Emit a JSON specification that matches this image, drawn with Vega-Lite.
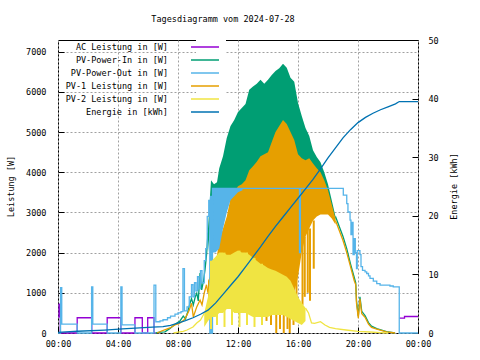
{
"$schema": "https://vega.github.io/schema/vega-lite/v6.json",
"width": 360, "height": 293,
"autosize": {"type": "none"},
"padding": {"left": 58, "top": 40, "right": 62, "bottom": 27},
"background": "white",
"title": {"text": "Tagesdiagramm vom 2024-07-28", "font": "DejaVu Sans Mono", "fontSize": 8.5, "fontWeight": "normal", "color": "black", "anchor": "middle", "dx": -15, "offset": 13},
"config": {
  "view": {"stroke": "black", "strokeWidth": 1},
  "axis": {"labelFont": "DejaVu Sans Mono", "labelFontSize": 8.5, "labelColor": "black", "titleFont": "DejaVu Sans Mono", "titleFontSize": 8.5, "titleFontWeight": "normal", "titleColor": "black", "domain": false, "tickColor": "black", "labelFlush": false, "labelOverlap": false, "zindex": 0},
  "legend": {"orient": "none", "legendX": 138, "legendY": -2, "padding": 4, "fillColor": "white", "direction": "vertical", "symbolType": "M-3.5,0H3.5", "symbolSize": 64, "symbolStrokeWidth": 1.5, "labelAlign": "right", "labelOffset": -42, "labelFont": "DejaVu Sans Mono", "labelFontSize": 8.5, "labelColor": "black", "rowPadding": 3}
},
"datasets": {
"ln": [
{"s":"ac","g":1,"t":0,"v":400},{"s":"ac","g":1,"t":0.07,"v":720},{"s":"ac","g":1,"t":0.15,"v":0},{"s":"ac","g":1,"t":1.28,"v":380},{"s":"ac","g":1,"t":2.25,"v":0},{"s":"ac","g":1,"t":3.28,"v":380},{"s":"ac","g":1,"t":4.19,"v":0},{"s":"ac","g":1,"t":5.13,"v":380},{"s":"ac","g":1,"t":5.62,"v":0},{"s":"ac","g":1,"t":5.98,"v":380},{"s":"ac","g":1,"t":6.4,"v":0},{"s":"ac","g":1,"t":6.5,"v":0},
{"s":"ac","g":2,"t":22.75,"v":370},{"s":"ac","g":2,"t":23.1,"v":410},{"s":"ac","g":2,"t":24,"v":410},
{"s":"in","g":1,"t":6.5,"v":0},{"s":"in","g":1,"t":6.8,"v":20},{"s":"in","g":1,"t":7.13,"v":30},{"s":"in","g":1,"t":7.47,"v":115},{"s":"in","g":1,"t":7.8,"v":220},{"s":"in","g":1,"t":8.13,"v":300},{"s":"in","g":1,"t":8.35,"v":420},{"s":"in","g":1,"t":8.5,"v":350},{"s":"in","g":1,"t":8.62,"v":490},{"s":"in","g":1,"t":8.8,"v":740},{"s":"in","g":1,"t":8.9,"v":860},{"s":"in","g":1,"t":9.02,"v":700},{"s":"in","g":1,"t":9.15,"v":900},{"s":"in","g":1,"t":9.25,"v":990},{"s":"in","g":1,"t":9.35,"v":800},{"s":"in","g":1,"t":9.47,"v":1490},{"s":"in","g":1,"t":9.58,"v":1070},{"s":"in","g":1,"t":9.7,"v":1300},{"s":"in","g":1,"t":9.8,"v":1570},{"s":"in","g":1,"t":9.91,"v":1980},{"s":"in","g":1,"t":10.0,"v":2500},
{"s":"in","g":2,"t":18.5,"v":2900},{"s":"in","g":2,"t":18.75,"v":2650},{"s":"in","g":2,"t":19.0,"v":2400},{"s":"in","g":2,"t":19.25,"v":2100},{"s":"in","g":2,"t":19.5,"v":1720},{"s":"in","g":2,"t":19.75,"v":1380},{"s":"in","g":2,"t":19.85,"v":1250},{"s":"in","g":2,"t":19.9,"v":800},{"s":"in","g":2,"t":20.02,"v":420},{"s":"in","g":2,"t":20.13,"v":900},{"s":"in","g":2,"t":20.25,"v":540},{"s":"in","g":2,"t":20.47,"v":430},{"s":"in","g":2,"t":20.7,"v":260},{"s":"in","g":2,"t":20.9,"v":170},{"s":"in","g":2,"t":21.25,"v":110},{"s":"in","g":2,"t":21.9,"v":35},{"s":"in","g":2,"t":22.47,"v":0},
{"s":"p1","g":1,"t":6.6,"v":0},{"s":"p1","g":1,"t":6.9,"v":50},{"s":"p1","g":1,"t":7.2,"v":90},{"s":"p1","g":1,"t":7.47,"v":125},{"s":"p1","g":1,"t":7.8,"v":200},{"s":"p1","g":1,"t":8.1,"v":240},{"s":"p1","g":1,"t":8.4,"v":320},{"s":"p1","g":1,"t":8.6,"v":450},{"s":"p1","g":1,"t":8.75,"v":570},{"s":"p1","g":1,"t":8.9,"v":740},{"s":"p1","g":1,"t":9.02,"v":400},{"s":"p1","g":1,"t":9.25,"v":650},{"s":"p1","g":1,"t":9.47,"v":820},{"s":"p1","g":1,"t":9.6,"v":700},{"s":"p1","g":1,"t":9.75,"v":1000},{"s":"p1","g":1,"t":9.9,"v":1200},{"s":"p1","g":1,"t":10.0,"v":1000},
{"s":"p1","g":2,"t":18.5,"v":2800},{"s":"p1","g":2,"t":18.75,"v":2550},{"s":"p1","g":2,"t":19.0,"v":2300},{"s":"p1","g":2,"t":19.25,"v":2000},{"s":"p1","g":2,"t":19.5,"v":1650},{"s":"p1","g":2,"t":19.75,"v":1300},{"s":"p1","g":2,"t":19.85,"v":1200},{"s":"p1","g":2,"t":19.9,"v":740},{"s":"p1","g":2,"t":20.02,"v":370},{"s":"p1","g":2,"t":20.13,"v":850},{"s":"p1","g":2,"t":20.25,"v":480},{"s":"p1","g":2,"t":20.47,"v":390},{"s":"p1","g":2,"t":20.7,"v":220},{"s":"p1","g":2,"t":20.9,"v":140},{"s":"p1","g":2,"t":21.25,"v":95},{"s":"p1","g":2,"t":21.9,"v":30},{"s":"p1","g":2,"t":22.47,"v":0},
{"s":"out","g":1,"t":0,"v":0},{"s":"out","g":1,"t":0.17,"v":1130},{"s":"out","g":1,"t":0.25,"v":220},{"s":"out","g":1,"t":1.28,"v":0},{"s":"out","g":1,"t":2.24,"v":1150},{"s":"out","g":1,"t":2.32,"v":220},{"s":"out","g":1,"t":3.28,"v":0},{"s":"out","g":1,"t":4.19,"v":1150},{"s":"out","g":1,"t":4.27,"v":200},{"s":"out","g":1,"t":5.13,"v":0},{"s":"out","g":1,"t":6.4,"v":1190},{"s":"out","g":1,"t":6.52,"v":280},{"s":"out","g":1,"t":6.8,"v":300},{"s":"out","g":1,"t":7.0,"v":330},{"s":"out","g":1,"t":7.3,"v":380},{"s":"out","g":1,"t":7.5,"v":420},{"s":"out","g":1,"t":7.8,"v":470},{"s":"out","g":1,"t":8.0,"v":500},{"s":"out","g":1,"t":8.2,"v":530},{"s":"out","g":1,"t":8.33,"v":1600},{"s":"out","g":1,"t":8.43,"v":550},{"s":"out","g":1,"t":8.6,"v":650},{"s":"out","g":1,"t":8.75,"v":900},{"s":"out","g":1,"t":8.9,"v":1200},{"s":"out","g":1,"t":9.0,"v":900},{"s":"out","g":1,"t":9.1,"v":1250},{"s":"out","g":1,"t":9.2,"v":1050},{"s":"out","g":1,"t":9.3,"v":1400},{"s":"out","g":1,"t":9.4,"v":1100},{"s":"out","g":1,"t":9.5,"v":1550},{"s":"out","g":1,"t":9.6,"v":1250},{"s":"out","g":1,"t":9.75,"v":1800},{"s":"out","g":1,"t":9.85,"v":2100},{"s":"out","g":1,"t":9.95,"v":2900},{"s":"out","g":1,"t":10.05,"v":3300},{"s":"out","g":1,"t":10.12,"v":0},{"s":"out","g":1,"t":10.17,"v":3400},{"s":"out","g":1,"t":10.25,"v":0},{"s":"out","g":1,"t":10.3,"v":3600},{"s":"out","g":1,"t":16.1,"v":2000},{"s":"out","g":1,"t":16.16,"v":3600},{"s":"out","g":1,"t":18.8,"v":3600},{"s":"out","g":1,"t":19.02,"v":3430},{"s":"out","g":1,"t":19.25,"v":3220},{"s":"out","g":1,"t":19.33,"v":3010},{"s":"out","g":1,"t":19.47,"v":2810},{"s":"out","g":1,"t":19.53,"v":2450},{"s":"out","g":1,"t":19.6,"v":2750},{"s":"out","g":1,"t":19.67,"v":1950},{"s":"out","g":1,"t":19.75,"v":2350},{"s":"out","g":1,"t":19.82,"v":2000},{"s":"out","g":1,"t":19.9,"v":1600},{"s":"out","g":1,"t":19.95,"v":2050},{"s":"out","g":1,"t":20.13,"v":1950},{"s":"out","g":1,"t":20.2,"v":1650},{"s":"out","g":1,"t":20.3,"v":1560},{"s":"out","g":1,"t":20.47,"v":1520},{"s":"out","g":1,"t":20.58,"v":1480},{"s":"out","g":1,"t":20.7,"v":1420},{"s":"out","g":1,"t":20.8,"v":1360},{"s":"out","g":1,"t":21.02,"v":1290},{"s":"out","g":1,"t":21.25,"v":1230},{"s":"out","g":1,"t":21.47,"v":1190},{"s":"out","g":1,"t":22.13,"v":1170},{"s":"out","g":1,"t":22.35,"v":1150},{"s":"out","g":1,"t":22.75,"v":0},{"s":"out","g":1,"t":24,"v":0},
{"s":"p2","g":1,"t":7.7,"v":0},{"s":"p2","g":1,"t":8.0,"v":20},{"s":"p2","g":1,"t":8.35,"v":40},{"s":"p2","g":1,"t":8.6,"v":75},{"s":"p2","g":1,"t":9.0,"v":150},{"s":"p2","g":1,"t":9.25,"v":250},{"s":"p2","g":1,"t":9.5,"v":320},{"s":"p2","g":1,"t":9.75,"v":490},
{"s":"p2","g":2,"t":16.5,"v":620},{"s":"p2","g":2,"t":16.7,"v":500},{"s":"p2","g":2,"t":16.9,"v":250},{"s":"p2","g":2,"t":17.1,"v":240},{"s":"p2","g":2,"t":17.5,"v":280},{"s":"p2","g":2,"t":17.8,"v":200},{"s":"p2","g":2,"t":18.1,"v":140},{"s":"p2","g":2,"t":18.5,"v":110},{"s":"p2","g":2,"t":19.2,"v":75},{"s":"p2","g":2,"t":20.0,"v":40},{"s":"p2","g":2,"t":20.8,"v":25},{"s":"p2","g":2,"t":21.5,"v":10},{"s":"p2","g":2,"t":22.0,"v":0}
],
"bd": [
{"s":"in","t":10.0,"lo":2000,"hi":2600},{"s":"in","t":10.2,"lo":3000,"hi":3800},{"s":"in","t":10.4,"lo":3500,"hi":3700},{"s":"in","t":10.6,"lo":3550,"hi":3750},{"s":"in","t":10.75,"lo":3550,"hi":4100},{"s":"in","t":11.0,"lo":3550,"hi":4400},{"s":"in","t":11.25,"lo":3550,"hi":4850},{"s":"in","t":11.5,"lo":3550,"hi":5150},{"s":"in","t":11.75,"lo":3550,"hi":5300},{"s":"in","t":12.0,"lo":3550,"hi":5500},{"s":"in","t":12.25,"lo":3600,"hi":5600},{"s":"in","t":12.5,"lo":3700,"hi":5700},{"s":"in","t":12.75,"lo":3900,"hi":6050},{"s":"in","t":13.0,"lo":4000,"hi":6130},{"s":"in","t":13.25,"lo":4100,"hi":6200},{"s":"in","t":13.5,"lo":4200,"hi":6300},{"s":"in","t":13.75,"lo":4300,"hi":6200},{"s":"in","t":14.0,"lo":4300,"hi":6300},{"s":"in","t":14.25,"lo":4500,"hi":6420},{"s":"in","t":14.5,"lo":4800,"hi":6520},{"s":"in","t":14.75,"lo":4900,"hi":6590},{"s":"in","t":15.0,"lo":5100,"hi":6700},{"s":"in","t":15.25,"lo":5000,"hi":6600},{"s":"in","t":15.5,"lo":4800,"hi":6350},{"s":"in","t":15.75,"lo":4500,"hi":6250},{"s":"in","t":16.0,"lo":4300,"hi":5720},{"s":"in","t":16.25,"lo":4200,"hi":5400},{"s":"in","t":16.5,"lo":4100,"hi":5100},{"s":"in","t":16.75,"lo":4100,"hi":4900},{"s":"in","t":17.0,"lo":4000,"hi":4550},{"s":"in","t":17.25,"lo":3900,"hi":4380},{"s":"in","t":17.5,"lo":3800,"hi":4250},{"s":"in","t":17.75,"lo":3700,"hi":4000},{"s":"in","t":18.0,"lo":3400,"hi":3700},{"s":"in","t":18.25,"lo":3100,"hi":3300},{"s":"in","t":18.5,"lo":2800,"hi":2900},
{"s":"p1","t":10.0,"lo":700,"hi":1300},{"s":"p1","t":10.25,"lo":800,"hi":1500},{"s":"p1","t":10.5,"lo":1000,"hi":1700},{"s":"p1","t":10.75,"lo":1400,"hi":2300},{"s":"p1","t":11.0,"lo":1900,"hi":2600},{"s":"p1","t":11.25,"lo":1900,"hi":2900},{"s":"p1","t":11.5,"lo":1900,"hi":3350},{"s":"p1","t":11.75,"lo":1900,"hi":3500},{"s":"p1","t":12.0,"lo":1900,"hi":3650},{"s":"p1","t":12.25,"lo":1900,"hi":3700},{"s":"p1","t":12.5,"lo":1850,"hi":3800},{"s":"p1","t":12.75,"lo":1800,"hi":4050},{"s":"p1","t":13.0,"lo":1750,"hi":4150},{"s":"p1","t":13.25,"lo":1700,"hi":4260},{"s":"p1","t":13.5,"lo":1650,"hi":4400},{"s":"p1","t":13.75,"lo":1600,"hi":4450},{"s":"p1","t":14.0,"lo":1550,"hi":4500},{"s":"p1","t":14.25,"lo":1500,"hi":4750},{"s":"p1","t":14.5,"lo":1200,"hi":5000},{"s":"p1","t":14.75,"lo":900,"hi":5150},{"s":"p1","t":15.0,"lo":700,"hi":5300},{"s":"p1","t":15.25,"lo":700,"hi":5200},{"s":"p1","t":15.5,"lo":800,"hi":5000},{"s":"p1","t":15.75,"lo":1000,"hi":4800},{"s":"p1","t":16.0,"lo":1400,"hi":4450},{"s":"p1","t":16.25,"lo":2000,"hi":4350},{"s":"p1","t":16.5,"lo":2400,"hi":4300},{"s":"p1","t":16.75,"lo":2600,"hi":4350},{"s":"p1","t":17.0,"lo":2800,"hi":4220},{"s":"p1","t":17.25,"lo":2900,"hi":4100},{"s":"p1","t":17.5,"lo":2950,"hi":4000},{"s":"p1","t":17.75,"lo":2950,"hi":3800},{"s":"p1","t":18.0,"lo":2950,"hi":3550},{"s":"p1","t":18.25,"lo":2850,"hi":3200},{"s":"p1","t":18.5,"lo":2700,"hi":2850},
{"s":"out","t":10.3,"lo":2000,"hi":3600},{"s":"out","t":10.5,"lo":2000,"hi":3600},{"s":"out","t":10.75,"lo":2100,"hi":3600},{"s":"out","t":11.0,"lo":2600,"hi":3600},{"s":"out","t":11.25,"lo":3000,"hi":3600},{"s":"out","t":11.5,"lo":3300,"hi":3600},{"s":"out","t":11.75,"lo":3400,"hi":3600},{"s":"out","t":12.0,"lo":3500,"hi":3600},{"s":"out","t":12.3,"lo":3550,"hi":3600},
{"s":"p2","t":9.75,"lo":150,"hi":500},{"s":"p2","t":10.0,"lo":300,"hi":900},{"s":"p2","t":10.25,"lo":400,"hi":1800},{"s":"p2","t":10.5,"lo":400,"hi":1900},{"s":"p2","t":10.75,"lo":500,"hi":2000},{"s":"p2","t":11.0,"lo":500,"hi":2000},{"s":"p2","t":11.25,"lo":600,"hi":1950},{"s":"p2","t":11.5,"lo":600,"hi":1950},{"s":"p2","t":11.75,"lo":500,"hi":2000},{"s":"p2","t":12.0,"lo":500,"hi":2050},{"s":"p2","t":12.25,"lo":500,"hi":2000},{"s":"p2","t":12.5,"lo":500,"hi":2000},{"s":"p2","t":12.75,"lo":450,"hi":1950},{"s":"p2","t":13.0,"lo":400,"hi":1870},{"s":"p2","t":13.25,"lo":400,"hi":1800},{"s":"p2","t":13.5,"lo":400,"hi":1720},{"s":"p2","t":13.75,"lo":400,"hi":1680},{"s":"p2","t":14.0,"lo":400,"hi":1620},{"s":"p2","t":14.25,"lo":450,"hi":1580},{"s":"p2","t":14.5,"lo":450,"hi":1550},{"s":"p2","t":14.75,"lo":450,"hi":1500},{"s":"p2","t":15.0,"lo":450,"hi":1450},{"s":"p2","t":15.25,"lo":400,"hi":1400},{"s":"p2","t":15.5,"lo":350,"hi":1300},{"s":"p2","t":15.75,"lo":300,"hi":1100},{"s":"p2","t":16.0,"lo":250,"hi":900},{"s":"p2","t":16.25,"lo":200,"hi":750},{"s":"p2","t":16.5,"lo":300,"hi":620}
],
"br": [
{"s":"p1","t":14.55,"lo":0,"hi":1500},{"s":"p1","t":14.8,"lo":100,"hi":1500},{"s":"p1","t":15.05,"lo":0,"hi":1500},{"s":"p1","t":15.3,"lo":100,"hi":1500},{"s":"p1","t":15.45,"lo":0,"hi":1500},{"s":"p1","t":15.7,"lo":200,"hi":1500},{"s":"p1","t":15.9,"lo":300,"hi":1500},{"s":"p1","t":16.3,"lo":700,"hi":2400},{"s":"p1","t":16.45,"lo":900,"hi":2400},{"s":"p1","t":16.65,"lo":1000,"hi":2600},{"s":"p1","t":16.8,"lo":800,"hi":2600},{"s":"p1","t":17.05,"lo":1600,"hi":2800},{"s":"p1","t":13.9,"lo":300,"hi":1600},{"s":"p1","t":14.2,"lo":200,"hi":1600},
{"s":"p2","t":10.2,"lo":100,"hi":1800},{"s":"p2","t":10.6,"lo":200,"hi":1900},{"s":"p2","t":11.1,"lo":150,"hi":2000},{"s":"p2","t":11.6,"lo":200,"hi":1950},{"s":"p2","t":12.1,"lo":150,"hi":2050},{"s":"p2","t":12.6,"lo":200,"hi":2000},{"s":"p2","t":13.1,"lo":150,"hi":1870},{"s":"p2","t":13.6,"lo":200,"hi":1720}
],
"en": [
{"t":0,"e":0.1},{"t":1.3,"e":0.3},{"t":3.1,"e":0.5},{"t":4.3,"e":0.7},{"t":6.3,"e":1.0},{"t":7.0,"e":1.1},{"t":7.5,"e":1.3},{"t":8.0,"e":1.7},{"t":8.5,"e":2.1},{"t":9.0,"e":2.6},{"t":9.5,"e":3.2},{"t":10.0,"e":3.9},{"t":10.5,"e":5.1},{"t":11.0,"e":6.6},{"t":11.5,"e":8.1},{"t":12.0,"e":9.6},{"t":12.5,"e":11.3},{"t":13.0,"e":13.0},{"t":13.5,"e":14.7},{"t":14.0,"e":16.5},{"t":14.5,"e":18.2},{"t":15.0,"e":19.8},{"t":15.5,"e":21.4},{"t":16.0,"e":23.0},{"t":16.5,"e":24.6},{"t":17.0,"e":26.2},{"t":17.5,"e":28.0},{"t":18.0,"e":29.9},{"t":18.5,"e":31.6},{"t":19.0,"e":33.3},{"t":19.5,"e":34.7},{"t":20.0,"e":35.9},{"t":20.5,"e":36.8},{"t":21.0,"e":37.5},{"t":21.5,"e":38.1},{"t":22.0,"e":38.6},{"t":22.5,"e":39.1},{"t":22.75,"e":39.5},{"t":24,"e":39.5}
]
},
"layer": [
 {"layer": [
  {"data": {"name": "ln"}, "transform": [{"filter": "datum.s == 'ac'"}],
   "mark": {"type": "line", "interpolate": "step-after", "strokeWidth": 1.3},
   "encoding": {
     "x": {"field": "t", "type": "quantitative", "title": null, "scale": {"domain": [0, 24], "nice": false},
           "axis": {"values": [0,2,4,6,8,10,12,14,16,18,20,22,24], "labelExpr": "(datum.value % 24 < 10 ? '0' : '') + (datum.value % 24) + ':00'", "grid": true, "gridColor": "#a0a0a0", "gridDash": [2,2], "tickSize": -6, "labelPadding": 12, "labelAngle": 0}},
     "y": {"field": "v", "type": "quantitative", "title": "Leistung [W]", "scale": {"domain": [0, 7290], "nice": false},
           "axis": {"values": [0,1000,2000,3000,4000,5000,6000,7000], "format": "d", "grid": true, "gridColor": "#a0a0a0", "gridDash": [2,2], "tickSize": -6, "labelPadding": 18, "titleAngle": 270, "titleX": -48, "titleY": 146, "titleAlign": "center", "titleBaseline": "middle"}},
     "detail": {"field": "g"},
     "color": {"field": "s", "type": "nominal", "scale": {"domain": ["ac","in","out","p1","p2","en"], "range": ["#9400d3","#009e73","#56b4e9","#e69f00","#f0e442","#0072b2"]},
               "legend": {"title": null, "labelExpr": "datum.value == 'ac' ? 'AC Leistung in [W]' : datum.value == 'in' ? 'PV-Power-In in [W]' : datum.value == 'out' ? 'PV-Power-Out in [W]' : datum.value == 'p1' ? 'PV-1 Leistung in [W]' : datum.value == 'p2' ? 'PV-2 Leistung in [W]' : 'Energie in [kWh]'"}}
   }},
  {"data": {"name": "bd"}, "transform": [{"filter": "datum.s == 'in'"}],
   "mark": {"type": "area", "color": "#009e73", "interpolate": "linear"},
   "encoding": {"x": {"field": "t", "type": "quantitative", "title": null}, "y": {"field": "hi", "type": "quantitative", "title": "Leistung [W]"}, "y2": {"field": "lo"}}},
  {"data": {"name": "ln"}, "transform": [{"filter": "datum.s == 'in'"}],
   "mark": {"type": "line", "strokeWidth": 1.3},
   "encoding": {"x": {"field": "t", "type": "quantitative", "title": null}, "y": {"field": "v", "type": "quantitative", "title": "Leistung [W]"}, "detail": {"field": "g"}, "color": {"field": "s", "type": "nominal"}}},
  {"data": {"name": "bd"}, "transform": [{"filter": "datum.s == 'p1'"}],
   "mark": {"type": "area", "color": "#e69f00", "interpolate": "linear"},
   "encoding": {"x": {"field": "t", "type": "quantitative", "title": null}, "y": {"field": "hi", "type": "quantitative", "title": "Leistung [W]"}, "y2": {"field": "lo"}}},
  {"data": {"name": "br"}, "transform": [{"filter": "datum.s == 'p1'"}],
   "mark": {"type": "rule", "color": "#e69f00", "strokeWidth": 2},
   "encoding": {"x": {"field": "t", "type": "quantitative", "title": null}, "y": {"field": "hi", "type": "quantitative", "title": "Leistung [W]"}, "y2": {"field": "lo"}}},
  {"data": {"name": "ln"}, "transform": [{"filter": "datum.s == 'p1'"}],
   "mark": {"type": "line", "strokeWidth": 1.3},
   "encoding": {"x": {"field": "t", "type": "quantitative", "title": null}, "y": {"field": "v", "type": "quantitative", "title": "Leistung [W]"}, "detail": {"field": "g"}, "color": {"field": "s", "type": "nominal"}}},
  {"data": {"name": "bd"}, "transform": [{"filter": "datum.s == 'out'"}],
   "mark": {"type": "area", "color": "#56b4e9", "interpolate": "linear"},
   "encoding": {"x": {"field": "t", "type": "quantitative", "title": null}, "y": {"field": "hi", "type": "quantitative", "title": "Leistung [W]"}, "y2": {"field": "lo"}}},
  {"data": {"name": "ln"}, "transform": [{"filter": "datum.s == 'out'"}],
   "mark": {"type": "line", "interpolate": "step-after", "strokeWidth": 1.3},
   "encoding": {"x": {"field": "t", "type": "quantitative", "title": null}, "y": {"field": "v", "type": "quantitative", "title": "Leistung [W]"}, "detail": {"field": "g"}, "color": {"field": "s", "type": "nominal"}}},
  {"data": {"name": "bd"}, "transform": [{"filter": "datum.s == 'p2'"}],
   "mark": {"type": "area", "color": "#f0e442", "interpolate": "linear"},
   "encoding": {"x": {"field": "t", "type": "quantitative", "title": null}, "y": {"field": "hi", "type": "quantitative", "title": "Leistung [W]"}, "y2": {"field": "lo"}}},
  {"data": {"name": "br"}, "transform": [{"filter": "datum.s == 'p2'"}],
   "mark": {"type": "rule", "color": "#f0e442", "strokeWidth": 2},
   "encoding": {"x": {"field": "t", "type": "quantitative", "title": null}, "y": {"field": "hi", "type": "quantitative", "title": "Leistung [W]"}, "y2": {"field": "lo"}}},
  {"data": {"name": "ln"}, "transform": [{"filter": "datum.s == 'p2'"}],
   "mark": {"type": "line", "strokeWidth": 1.3},
   "encoding": {"x": {"field": "t", "type": "quantitative", "title": null}, "y": {"field": "v", "type": "quantitative", "title": "Leistung [W]"}, "detail": {"field": "g"}, "color": {"field": "s", "type": "nominal"}}}
 ]},
 {"data": {"name": "en"},
  "mark": {"type": "line", "strokeWidth": 1.3},
  "encoding": {
    "x": {"field": "t", "type": "quantitative", "title": null},
    "y": {"field": "e", "type": "quantitative", "title": "Energie [kWh]", "scale": {"domain": [0, 50], "nice": false},
          "axis": {"orient": "right", "values": [0,10,20,30,40,50], "grid": false, "tickSize": -6, "labelPadding": 16, "titleAngle": 270, "titleX": 35, "titleY": 146, "titleAlign": "center", "titleBaseline": "middle"}},
    "color": {"datum": "en"}
  }}
],
"resolve": {"scale": {"y": "independent"}}
}
